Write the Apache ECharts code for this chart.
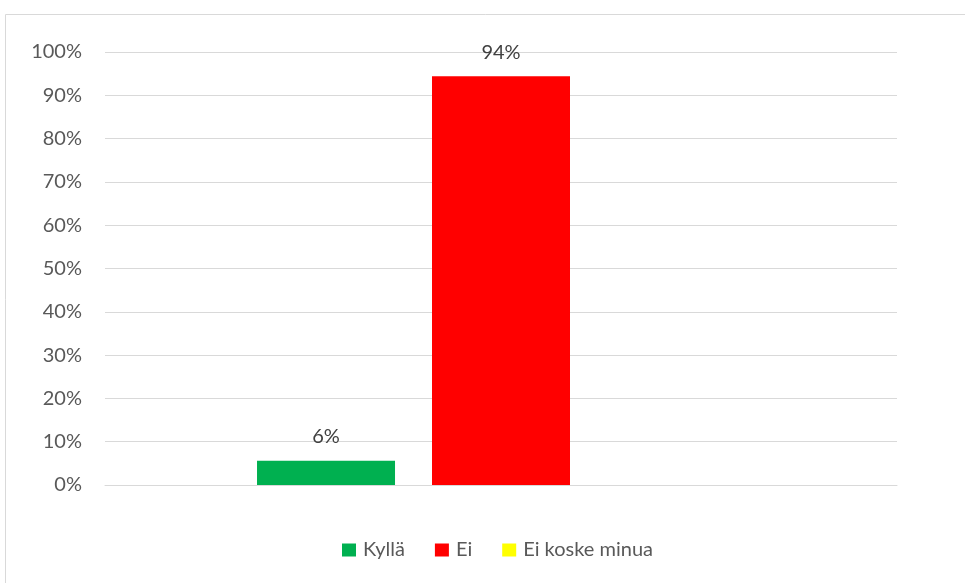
<!DOCTYPE html>
<html>
<head>
<meta charset="utf-8">
<script src="https://cdn.jsdelivr.net/npm/echarts@6/dist/echarts.min.js"></script>
<style>
  html, body { margin: 0; padding: 0; background: #fff; }
  #chart { width: 965px; height: 583px; }
</style>
</head>
<body>
<div id="chart"></div>
<script>
var categories = [""];
var seriesNames = ["Kyllä", "Ei", "Ei koske minua"];
var seriesValues = [[5.6], [94.4], [0]];
var colors = ["#00b050", "#ff0000", "#ffff00"];
var yTicks = [0, 10, 20, 30, 40, 50, 60, 70, 80, 90, 100];

var chart = echarts.init(document.getElementById("chart"));
var series = [];
for (var i = 0; i < seriesNames.length; i++) {
  series.push({
    name: seriesNames[i],
    type: "bar",
    data: seriesValues[i],
    barWidth: 138,
    barGap: "26.8%",
    itemStyle: { color: colors[i] },
    label: {
      show: true,
      position: "top",
      distance: 14,
      color: "#404040",
      fontSize: 20,
      fontFamily: "Lato",
      formatter: function (p) {
        return p.value > 0 ? Math.round(p.value) + "%" : "";
      }
    }
  });
}

var option = {
  animation: false,
  color: colors,
  graphic: [{
    type: "rect",
    shape: { x: 5.5, y: 14.5, width: 980, height: 600 },
    style: { fill: "none", stroke: "#d9d9d9", lineWidth: 1 },
    silent: true
  }],
  grid: { left: 105, right: 68, top: 52, bottom: 98 },
  legend: {
    bottom: 18,
    left: 337,
    itemWidth: 14,
    itemHeight: 13,
    itemGap: 30,
    icon: "rect",
    textStyle: { color: "#595959", fontSize: 20, fontFamily: "Lato", padding: [0, 0, 0, 2] },
    data: seriesNames
  },
  xAxis: {
    type: "category",
    data: categories,
    axisLine: { show: true, lineStyle: { color: "#d9d9d9" } },
    axisTick: { show: false },
    axisLabel: { show: false }
  },
  yAxis: {
    type: "value",
    min: yTicks[0],
    max: yTicks[yTicks.length - 1],
    interval: 10,
    axisLine: { show: false },
    axisTick: { show: false },
    splitLine: { lineStyle: { color: "#d9d9d9", width: 1 } },
    axisLabel: {
      color: "#595959",
      fontSize: 20,
      fontFamily: "Lato",
      margin: 23,
      formatter: "{value}%"
    }
  },
  series: series
};
chart.setOption(option);
</script>
</body>
</html>
